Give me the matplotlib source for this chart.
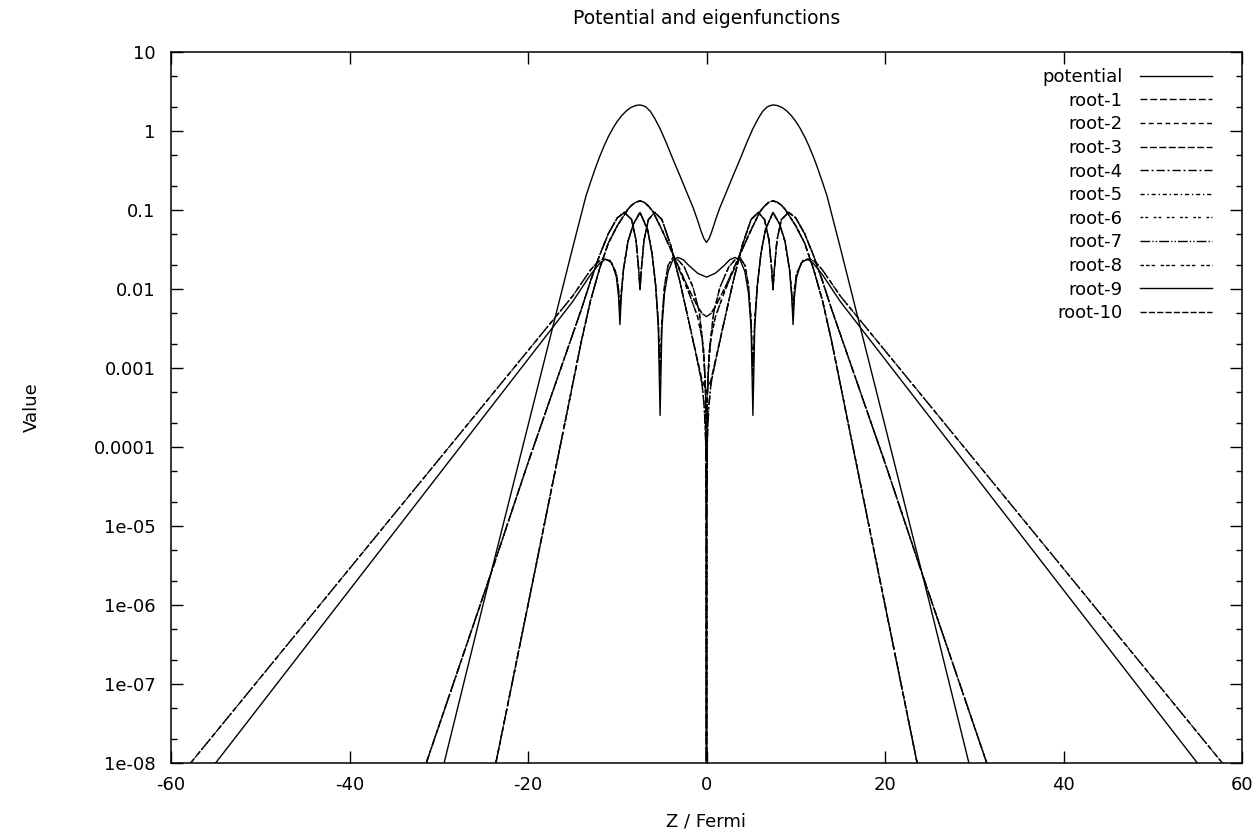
import numpy as np
import matplotlib
matplotlib.use("Agg")
import matplotlib.pyplot as plt
from matplotlib.ticker import FixedLocator, FuncFormatter, NullLocator

# Half profiles (z >= 0); values are log10 of "Value".
# All curves in the reference are mirror symmetric about z = 0.
pot_z = [0, 0.3, 0.6, 1.0, 1.5, 2.2, 3.0, 3.75, 4.5, 5.2, 5.8, 6.3, 6.8, 7.1, 7.45, 7.8, 8.0,
         8.5, 9.0, 9.5, 10.0, 10.5, 11.0, 11.5, 12.0, 12.4, 13.0, 13.5, 14.0, 14.5, 15.0, 16.0,
         18.0, 20.0, 22.0, 25.0, 29.4]
pot_log = [-1.41, -1.36, -1.27, -1.13, -0.97, -0.78, -0.56, -0.36, -0.15, 0.03, 0.16, 0.25,
           0.305, 0.32, 0.33, 0.325, 0.32, 0.295, 0.253, 0.195, 0.122, 0.032, -0.073, -0.195,
           -0.333, -0.454, -0.65, -0.82, -1.04, -1.26, -1.48, -1.93, -2.83, -3.73, -4.63,
           -5.98, -8.0]

# lowest pair: single hump at the well centre
n0_z = [0, 0.5, 1, 2, 3, 4, 5, 6, 6.5, 7.0, 7.45, 7.9, 8.4, 8.8, 9.2, 10, 11, 12, 13, 14, 16,
        20, 23.6]
n0s_log = [-2.35, -2.31, -2.22, -2.0, -1.75, -1.5, -1.25, -1.02, -0.95, -0.90, -0.886, -0.90,
           -0.94, -0.99, -1.06, -1.2, -1.42, -1.75, -2.15, -2.65, -3.77, -6.0, -8.0]
n0a_z = [0, 0.02, 0.1, 0.25, 0.5, 1, 2, 3, 4, 5, 6, 6.5, 7.0, 7.45, 7.9, 8.4, 8.8, 9.2, 10, 11,
         12, 13, 14, 16, 20, 23.6]
n0a_log = [-9.0, -4.7, -3.35, -2.95, -2.62, -2.35, -2.04, -1.77, -1.5, -1.25, -1.02, -0.95,
           -0.90, -0.886, -0.90, -0.94, -0.99, -1.06, -1.2, -1.42, -1.75, -2.15, -2.65, -3.77,
           -6.0, -8.0]

# second pair: node at the well centre
n1_z = [0, 0.5, 1, 2, 3, 4, 5, 5.8, 6.5, 7.0, 7.3, 7.45, 7.6, 7.9, 8.4, 9.2, 10, 11, 12, 13,
        14, 16, 20, 24, 31.4]
n1s_log = [-3.3, -3.15, -2.9, -2.4, -1.9, -1.45, -1.12, -1.03, -1.12, -1.38, -1.75, -2.01,
           -1.75, -1.38, -1.12, -1.03, -1.1, -1.3, -1.58, -1.9, -2.25, -2.9, -4.2, -5.55, -8.0]
n1a_z = [0, 0.02, 0.1, 0.25, 0.5, 1, 2, 3, 4, 5, 5.8, 6.5, 7.0, 7.3, 7.45, 7.6, 7.9, 8.4, 9.2,
         10, 11, 12, 13, 14, 16, 20, 24, 31.4]
n1a_log = [-9.0, -5.0, -3.9, -3.5, -3.2, -2.92, -2.4, -1.9, -1.45, -1.12, -1.03, -1.12, -1.38,
           -1.75, -2.0, -1.75, -1.38, -1.12, -1.03, -1.1, -1.3, -1.58, -1.9, -2.25, -2.9, -4.2,
           -5.55, -8.0]

# third pair: three lobes, long tails
n2s_z = [0, 1, 2, 2.6, 3.2, 3.8, 4.3, 4.7, 5.0, 5.2, 5.4, 5.7, 6.1, 6.6, 7.45, 8.2, 8.8, 9.3,
         9.55, 9.7, 9.85, 10.1, 10.6, 11.3, 12, 13, 15, 20, 30, 40, 55]
n2s_log = [-1.85, -1.80, -1.70, -1.63, -1.60, -1.64, -1.78, -2.05, -2.5, -3.6, -2.5, -1.95,
           -1.55, -1.25, -1.03, -1.18, -1.4, -1.75, -2.1, -2.45, -2.1, -1.85, -1.67, -1.62,
           -1.68, -1.82, -2.16, -2.89, -4.35, -5.81, -8.0]
n2a_z = [0, 0.02, 0.1, 0.3, 0.8, 1.5, 2.5, 3.2, 3.75, 4.3, 4.7, 5.0, 5.2, 5.4, 5.7, 6.1, 6.6,
         7.45, 8.2, 8.8, 9.3, 9.55, 9.7, 9.85, 10.1, 10.8, 11.6, 12.3, 13, 15, 20, 30, 40, 57.8]
n2a_log = [-9.0, -4.0, -3.3, -2.8, -2.3, -1.98, -1.72, -1.63, -1.60, -1.7, -1.95, -2.4, -3.1,
           -2.4, -1.95, -1.55, -1.25, -1.03, -1.18, -1.4, -1.75, -2.05, -2.3, -2.0, -1.8,
           -1.64, -1.62, -1.67, -1.76, -2.09, -2.78, -4.16, -5.54, -8.0]

root_names = ["root-1", "root-2", "root-3", "root-4", "root-5",
              "root-6", "root-7", "root-8", "root-9", "root-10"]
root_data = [(n0_z, n0s_log), (n0a_z, n0a_log), (n1_z, n1s_log), (n1a_z, n1a_log),
             (n2a_z, n2a_log), (n0_z, n0s_log), (n1a_z, n1a_log), (n0a_z, n0a_log),
             (n2s_z, n2s_log), (n2a_z, n2a_log)]
root_dashes = [(5, 2), (3.5, 2.5), (5, 1.8), (6, 2, 1.5, 2), (3, 2, 1, 2),
               (2, 1.5, 2, 4), (7, 1.5, 1, 1.5, 1, 1.5), (2.5, 1.5, 2.5, 1.5, 2.5, 4),
               None, (4.5, 1.5)]

y_ticks = [10, 1, 0.1, 0.01, 0.001, 0.0001, 1e-05, 1e-06, 1e-07, 1e-08]
x_ticks = [-60, -40, -20, 0, 20, 40, 60]


def mirror(z, lg):
    z = np.asarray(z, float)
    lg = np.asarray(lg, float)
    zz = np.concatenate([-z[::-1], z[1:]])
    vv = 10.0 ** np.concatenate([lg[::-1], lg[1:]])
    return zz, vv


plt.rcParams["font.family"] = ["DejaVu Sans"]
plt.rcParams["font.size"] = 13
plt.rcParams["axes.unicode_minus"] = False

fig = plt.figure(figsize=(12.6, 8.35), dpi=100)
ax = fig.add_axes([171 / 1260, 1 - 763 / 835, 1071 / 1260, 711 / 835])

z, v = mirror(pot_z, pot_log)
ax.plot(z, v, color="black", lw=1.0, label="potential")
for name, (zz, lg), dash in zip(root_names, root_data, root_dashes):
    z, v = mirror(zz, lg)
    line, = ax.plot(z, v, color="black", lw=1.0, label=name)
    if dash is not None:
        line.set_dashes(dash)

ax.set_yscale("log")
ax.set_xlim(-60, 60)
ax.set_ylim(1e-8, 10)
ax.xaxis.set_major_locator(FixedLocator(x_ticks))
ax.xaxis.set_minor_locator(NullLocator())
ax.yaxis.set_major_locator(FixedLocator(y_ticks))
minor = [m * 10.0 ** e for e in range(-8, 1) for m in (2, 5)]
ax.yaxis.set_minor_locator(FixedLocator(minor))
ax.yaxis.set_minor_formatter(FuncFormatter(lambda val, pos: ""))
ax.yaxis.set_major_formatter(FuncFormatter(lambda val, pos: "%g" % val))
ax.tick_params(which="both", direction="in", top=True, right=True, width=1.0)
ax.tick_params(which="major", length=8.5)
ax.tick_params(which="minor", length=4.3)
ax.tick_params(axis="y", pad=11)
ax.tick_params(axis="x", pad=9)
for s in ax.spines.values():
    s.set_linewidth(1.1)

ax.set_title("Potential and eigenfunctions", pad=20, fontsize=13.5)
ax.set_xlabel("Z / Fermi", labelpad=14)
ax.set_ylabel("Value", labelpad=38)

ax.legend(loc="upper right", bbox_to_anchor=(0.9786, 0.9874), frameon=False,
          markerfirst=False, handlelength=4.0, labelspacing=0.31, handletextpad=0.95,
          borderaxespad=0.0, borderpad=0.4, fontsize=13)

fig.savefig("out.png", dpi=100)
